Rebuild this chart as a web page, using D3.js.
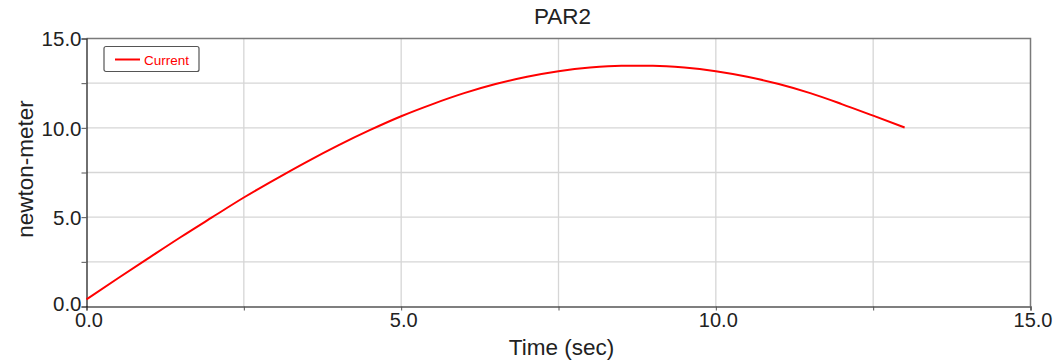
<!DOCTYPE html>
<html>
<head>
<meta charset="utf-8">
<script src="https://cdn.jsdelivr.net/npm/d3@7"></script>
<style>
  body { margin: 0; background: #fff; }
  svg { display: block; font-family: "Liberation Sans", Arial, sans-serif; }
</style>
</head>
<body>
<svg id="chart"></svg>
<script>
// series
const times = [0, 0.5, 1, 1.5, 2, 2.5, 3, 3.5, 4, 4.5, 5, 5.5, 6, 6.5, 7, 7.5, 8, 8.5, 9, 9.5, 10, 10.5, 11, 11.5, 12, 12.5, 13];
const current = [0.4, 1.58, 2.74, 3.89, 5.0, 6.1, 7.12, 8.1, 9.02, 9.87, 10.65, 11.33, 11.94, 12.45, 12.86, 13.17, 13.38, 13.48, 13.48, 13.38, 13.17, 12.86, 12.45, 11.94, 11.33, 10.68, 10.02];
const gridTicks = [0, 2.5, 5, 7.5, 10, 12.5, 15];
const labelTicks = [0, 5, 10, 15];

const W = 1060, H = 362;
const margin = {top: 38.5, right: 29.5, bottom: 55.5, left: 86.5};
const width = W - margin.left - margin.right,
      height = H - margin.top - margin.bottom;

const root = d3.select('#chart').attr('width', W).attr('height', H);
const svg = root.append('g')
  .attr('transform', 'translate(' + margin.left + ',' + margin.top + ')');

let x = d3.scaleLinear().domain([0, 15]).range([0, width]);
let y = d3.scaleLinear().domain([0, 15]).range([height, 0]);

// grid
svg.append('g').selectAll('line.gx')
  .data(gridTicks.slice(1, -1))
  .enter().append('line')
  .attr('x1', d => x(d)).attr('x2', d => x(d))
  .attr('y1', 0).attr('y2', height)
  .attr('stroke', '#d6d6d6').attr('stroke-width', 1.3);

svg.append('g').selectAll('line.gy')
  .data(gridTicks.slice(1, -1))
  .enter().append('line')
  .attr('y1', d => y(d)).attr('y2', d => y(d))
  .attr('x1', 0).attr('x2', width)
  .attr('stroke', '#d6d6d6').attr('stroke-width', 1.3);

// frame: top and right
svg.append('path')
  .attr('d', 'M0,0H' + width + 'V' + height)
  .attr('fill', 'none').attr('stroke', '#7a7a7a').attr('stroke-width', 1.5);

// axes
const xAxis = d3.axisBottom(x).tickValues(gridTicks).tickSize(4)
  .tickFormat(d => labelTicks.includes(d) ? d3.format('.1f')(d) : '');
const yAxis = d3.axisLeft(y).tickValues(gridTicks).tickSize(5)
  .tickFormat(d => labelTicks.includes(d) ? d3.format('.1f')(d) : '');

const gx = svg.append('g')
  .attr('transform', 'translate(0,' + height + ')')
  .call(xAxis);
gx.select('.domain').attr('stroke', '#555').attr('stroke-width', 1.5);
gx.selectAll('.tick line').attr('stroke', '#555');
gx.selectAll('.tick text')
  .attr('font-size', 20).attr('fill', '#222')
  .attr('y', 6).attr('dy', '0.71em').attr('dx', 2)
  .attr('text-anchor', 'middle');

const gy = svg.append('g').call(yAxis);
gy.select('.domain').attr('stroke', '#111').attr('stroke-width', 1.2);
gy.selectAll('.tick line').attr('stroke', '#555');
gy.selectAll('.tick text')
  .attr('font-size', 20.5).attr('fill', '#222').attr('x', -5)
  .attr('dy', d => d === 0 ? '0.2em' : '0.36em');

// series
const line = d3.line()
  .x((d, i) => x(times[i]))
  .y(d => y(d))
  .curve(d3.curveMonotoneX);

svg.append('path')
  .datum(current)
  .attr('d', line)
  .attr('fill', 'none')
  .attr('stroke', '#ff0000')
  .attr('stroke-width', 2);

// legend
const legend = svg.append('g').attr('transform', 'translate(17.5,8)');
legend.append('rect')
  .attr('width', 95).attr('height', 25).attr('rx', 2)
  .attr('fill', '#fff').attr('stroke', '#555').attr('stroke-width', 1.2);
legend.append('line')
  .attr('x1', 11).attr('x2', 36).attr('y1', 13).attr('y2', 13)
  .attr('stroke', '#ff0000').attr('stroke-width', 2);
legend.append('text')
  .attr('x', 40).attr('y', 18)
  .attr('font-size', 13.5).attr('fill', '#ff0000')
  .text('Current');

// titles
root.append('text')
  .attr('x', margin.left + width / 2 + 4).attr('y', 24)
  .attr('text-anchor', 'middle').attr('font-size', 22.5).attr('fill', '#222')
  .text('PAR2');

root.append('text')
  .attr('x', margin.left + width / 2 + 3).attr('y', 355)
  .attr('text-anchor', 'middle').attr('font-size', 22.5).attr('fill', '#222')
  .text('Time (sec)');

root.append('text')
  .attr('transform', 'translate(33,169)rotate(-90)')
  .attr('text-anchor', 'middle').attr('font-size', 22.5).attr('fill', '#222')
  .text('newton-meter');
</script>
</body>
</html>
